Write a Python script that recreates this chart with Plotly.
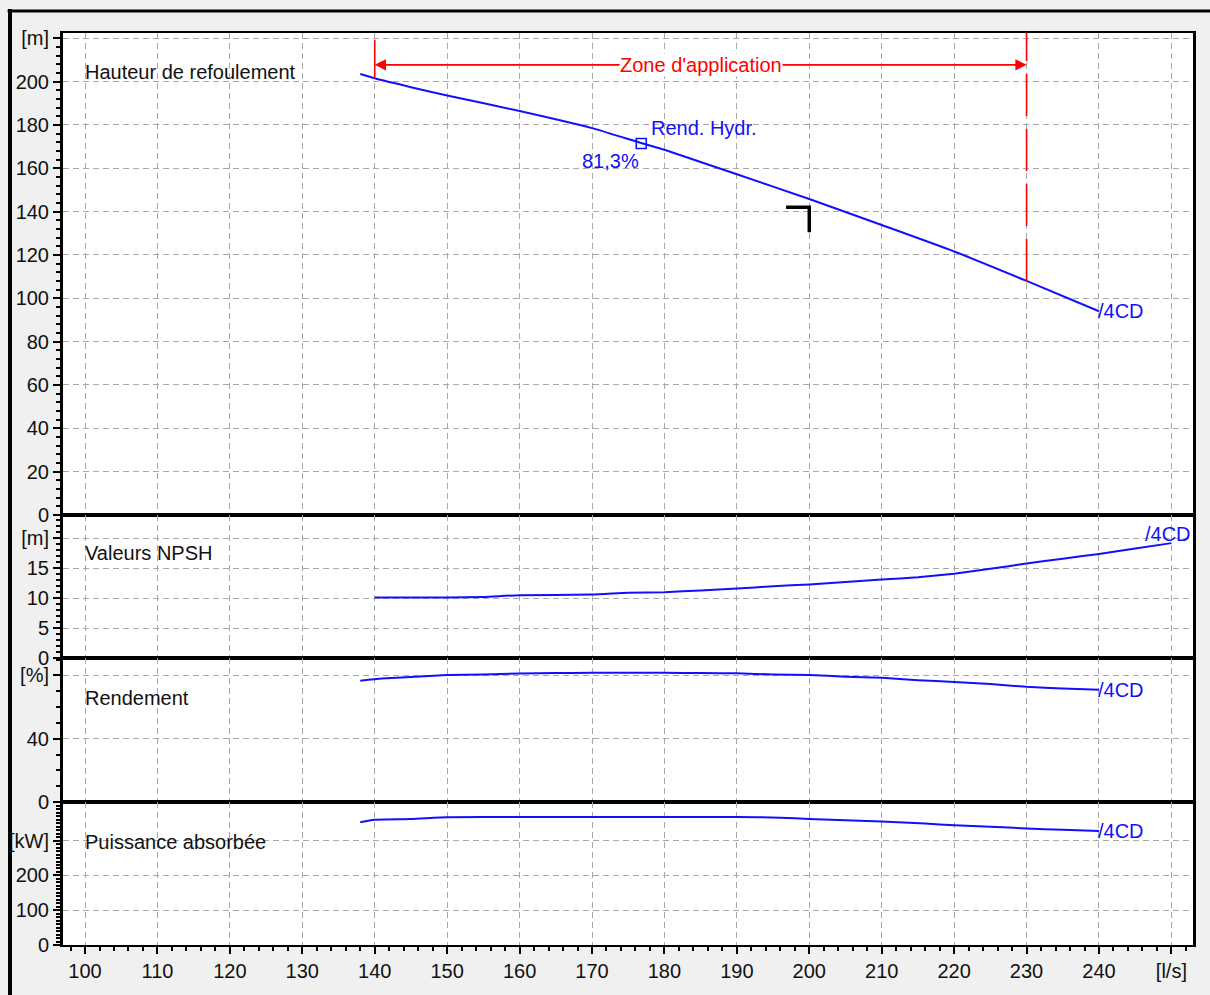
import plotly.graph_objects as go
from plotly.subplots import make_subplots

# ---- Courbes de la pompe /4CD (débit en l/s) ----
q_head = [138, 140, 145, 150, 160, 170, 177, 180, 190, 200, 210, 220, 230, 240]
h_head = [203.5, 201.5, 197.4, 193.6, 186.4, 178.5, 171.4, 168.5, 157.2, 145.8, 133.8, 121.6, 108.0, 94.0]

q_npsh = [140, 150, 155, 160, 170, 175, 180, 185, 190, 195, 200, 205, 210, 215, 220, 225, 230, 235, 240, 245, 250]
npsh = [10.1, 10.1, 10.2, 10.5, 10.6, 10.9, 11.0, 11.3, 11.6, 12.0, 12.3, 12.7, 13.1, 13.5, 14.1, 14.9, 15.8, 16.6, 17.4, 18.3, 19.2]

q_eff = [138, 141, 145, 150, 155, 160, 165, 170, 175, 180, 185, 190, 195, 200, 205, 210, 215, 220, 225, 230, 235, 240]
eff = [76.7, 78.0, 79.0, 80.2, 80.6, 81.2, 81.5, 81.6, 81.6, 81.6, 81.5, 81.3, 80.6, 80.2, 79.2, 78.5, 77.0, 75.9, 74.5, 72.8, 71.8, 70.9]

q_pow = [138, 140, 145, 150, 160, 170, 180, 190, 196, 200, 206, 210, 216, 220, 225, 230, 235, 240]
power = [353, 360, 362, 367, 368, 368, 368, 368, 366, 362, 358, 355, 349, 344, 340, 335, 331, 328]

pump_name = "/4CD"

# zone d'application et points caractéristiques
zone_q = [140, 230]
bep_q, bep_h, bep_eta = 176.8, 171.4, 81.3
duty_q, duty_h = 200.0, 142.0

# axes
x_ticks = list(range(100, 251, 10))
x_ticktext = [str(v) for v in x_ticks[:-1]] + ["[l/s]"]
head_ticks = list(range(0, 221, 20))
head_ticktext = [str(v) for v in head_ticks[:-1]] + ["[m]"]
npsh_ticks = [0, 5, 10, 15, 20]
npsh_ticktext = ["0", "5", "10", "15", "[m]"]
eff_ticks = [0, 40, 80]
eff_ticktext = ["0", "40", "[%]"]
pow_ticks = [0, 100, 200, 300]
pow_ticktext = ["0", "100", "200", "[kW]"]

FONT = "Liberation Sans, Arial, sans-serif"
FS = 20
BLUE = "#1010ff"
RED = "#ff0000"
GRID = "#a8a8a8"
TXT = "#111111"

fig = make_subplots(rows=4, cols=1, shared_xaxes=True, vertical_spacing=0,
                    row_heights=[482, 143, 144, 143])

line_style = dict(color=BLUE, width=2, shape="spline", smoothing=0.5)
fig.add_trace(go.Scatter(x=q_head, y=h_head, mode="lines", line=line_style), row=1, col=1)
fig.add_trace(go.Scatter(x=q_npsh, y=npsh, mode="lines", line=line_style), row=2, col=1)
fig.add_trace(go.Scatter(x=q_eff, y=eff, mode="lines", line=line_style), row=3, col=1)
fig.add_trace(go.Scatter(x=q_pow, y=power, mode="lines", line=line_style), row=4, col=1)

# point de rendement hydraulique maximal
fig.add_trace(go.Scatter(x=[bep_q], y=[bep_h], mode="markers",
                         marker=dict(symbol="square-open", size=10, color=BLUE,
                                     line=dict(width=1.6, color=BLUE))),
              row=1, col=1)

x_common = dict(range=[96.96, 252.98], tickmode="array", tickvals=x_ticks,
                showgrid=True, gridcolor=GRID, griddash="6px,4px", gridwidth=1,
                showline=True, mirror=True, linecolor="black", linewidth=2,
                zeroline=False, automargin=False)
for r in range(1, 5):
    fig.update_xaxes(x_common, row=r, col=1)
fig.update_xaxes(showticklabels=False, ticks="", row=1, col=1)
fig.update_xaxes(showticklabels=False, ticks="", row=2, col=1)
fig.update_xaxes(showticklabels=False, ticks="", row=3, col=1)
fig.update_xaxes(showticklabels=True, ticktext=x_ticktext, ticks="outside",
                 ticklen=7, tickwidth=2, tickcolor="black",
                 minor=dict(tickmode="linear", tick0=100, dtick=2, ticks="outside",
                            ticklen=4, tickwidth=1.5, tickcolor="black", showgrid=False),
                 row=4, col=1)

y_common = dict(showgrid=True, gridcolor=GRID, griddash="6px,4px", gridwidth=1,
                showline=True, mirror=True, linecolor="black", linewidth=3,
                zeroline=False, tickmode="array", ticks="outside", ticklen=7,
                tickwidth=2, tickcolor="black", automargin=False)
fig.update_yaxes(y_common, range=[0, 222.4], tickvals=head_ticks, ticktext=head_ticktext,
                 minor=dict(tickmode="linear", tick0=0, dtick=4, ticks="outside",
                            ticklen=4, tickwidth=1.5, tickcolor="black", showgrid=False),
                 row=1, col=1)
fig.update_yaxes(y_common, range=[0, 23.9], tickvals=npsh_ticks, ticktext=npsh_ticktext,
                 minor=dict(tickmode="linear", tick0=0, dtick=1, ticks="outside",
                            ticklen=4, tickwidth=1.5, tickcolor="black", showgrid=False),
                 row=2, col=1)
fig.update_yaxes(y_common, range=[0, 91.0], tickvals=eff_ticks, ticktext=eff_ticktext,
                 minor=dict(tickmode="linear", tick0=0, dtick=10, ticks="outside",
                            ticklen=4, tickwidth=1.5, tickcolor="black", showgrid=False),
                 row=3, col=1)
fig.update_yaxes(y_common, range=[0, 411], tickvals=pow_ticks, ticktext=pow_ticktext,
                 minor=dict(tickmode="linear", tick0=0, dtick=10, ticks="outside",
                            ticklen=4, tickwidth=1.5, tickcolor="black", showgrid=False),
                 row=4, col=1)

ann = []


def label(text, x, y, xref, yref, color=TXT, **kw):
    d = dict(text=text, x=x, y=y, xref=xref, yref=yref, showarrow=False,
             xanchor="left", yanchor="middle", font=dict(family=FONT, size=FS, color=color))
    d.update(kw)
    ann.append(d)


# titres des panneaux
label("Hauteur de refoulement", 99.7, 204.4, "x", "y")
label("Valeurs NPSH", 99.7, 17.6, "x2", "y2")
label("Rendement", 99.7, 65.8, "x3", "y3")
label("Puissance absorbée", 99.7, 296, "x4", "y4")

# étiquettes des courbes
label(pump_name, q_head[-1], h_head[-1], "x", "y", color=BLUE, xshift=-3)
label(pump_name, q_npsh[-1], npsh[-1], "x2", "y2", color=BLUE, xshift=-28, yshift=9)
label(pump_name, q_eff[-1], eff[-1], "x3", "y3", color=BLUE, xshift=-3)
label(pump_name, q_pow[-1], power[-1], "x4", "y4", color=BLUE, xshift=-3)

# rendement hydraulique
label("Rend. Hydr.", bep_q, bep_h, "x", "y", color=BLUE, xshift=8, yshift=16)
label(f"{bep_eta:.1f}%".replace(".", ","), bep_q, bep_h, "x", "y", color=BLUE,
      xanchor="right", xshift=0, yshift=-17)

# zone d'application
zone_y = 207.7
zone_mid = (zone_q[0] + zone_q[1]) / 2
for qz in zone_q:
    ann.append(dict(x=qz, y=zone_y, ax=zone_mid, ay=zone_y, xref="x", yref="y",
                    axref="x", ayref="y", text="", showarrow=True, arrowhead=2,
                    arrowsize=1.4, arrowwidth=1.6, arrowcolor=RED))
label("Zone d'application", zone_mid, zone_y, "x", "y", color=RED, xanchor="center",
      bgcolor="white", borderpad=0)

h_start = h_head[q_head.index(zone_q[0])]
h_end = h_head[q_head.index(zone_q[1])]
shapes = [
    dict(type="line", xref="x", yref="y", x0=zone_q[0], x1=zone_q[0], y0=h_start, y1=219.3,
         line=dict(color=RED, width=1.6)),
    dict(type="line", xref="x", yref="y", x0=zone_q[1], x1=zone_q[1], y0=h_end, y1=222.4,
         line=dict(color=RED, width=1.6, dash="42px,13px")),
    # point de fonctionnement
    dict(type="path", xref="x", yref="y",
         path=f"M {duty_q - 3.2},{duty_h} L {duty_q},{duty_h} L {duty_q},{duty_h - 11.5}",
         line=dict(color="black", width=3.5)),
    # cadre de la fenêtre
    dict(type="line", xref="paper", yref="paper", x0=-0.0469, x1=-0.0469, y0=1.0263, y1=-0.06,
         line=dict(color="black", width=4)),
    dict(type="line", xref="paper", yref="paper", x0=-0.049, x1=1.016, y0=1.0241, y1=1.0241,
         line=dict(color="black", width=3)),
]

fig.update_layout(
    width=1210, height=995,
    margin=dict(l=63, r=17, t=33, b=50),
    paper_bgcolor="#f0f0f0", plot_bgcolor="white",
    font=dict(family=FONT, size=FS, color=TXT),
    showlegend=False,
    annotations=ann,
    shapes=shapes,
)

fig.write_html("out.html")
